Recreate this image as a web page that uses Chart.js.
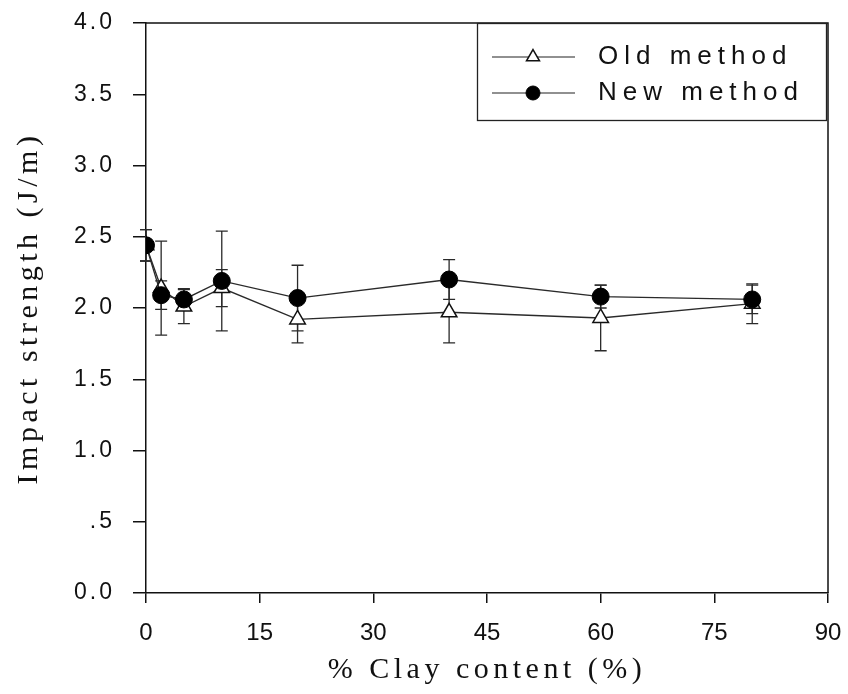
<!DOCTYPE html>
<html>
<head>
<meta charset="utf-8">
<script src="https://cdn.jsdelivr.net/npm/chart.js@4/dist/chart.umd.min.js"></script>
<style>
  html, body { margin: 0; padding: 0; background: #fff; overflow: hidden; }
  #wrap { width: 848px; height: 694px; position: relative; }
</style>
</head>
<body>
<div id="wrap"><canvas id="c"></canvas></div>
<script>
// Clay content (%) of each sample
const clayContent = [0, 2, 5, 10, 20, 40, 60, 80];
// Impact strength (J/m), mean values
const oldMethod = [2.44, 2.14, 2.01, 2.14, 1.92, 1.97, 1.93, 2.03];
const newMethod = [2.44, 2.09, 2.06, 2.19, 2.07, 2.20, 2.08, 2.06];
// Standard deviations (J/m)
const oldMethodSD = [0.11, 0.33, 0.12, 0.13, 0.165, 0.215, 0.23, 0.14];
const newMethodSD = [0.11, 0.10, 0.075, 0.35, 0.23, 0.14, 0.08, 0.10];
// Axis ranges and tick steps
const xTicks = { min: 0, max: 90, step: 15 };
const yTicks = { min: 0, max: 4, step: 0.5 };
const seriesNames = ['Old method', 'New method'];

const SANS = "'Liberation Sans', Arial, sans-serif";
const SERIF = "'Liberation Serif', 'Times New Roman', serif";

// Linear scale whose labels and title can be drawn letter-spaced
class SpacedLinearScale extends Chart.LinearScale {
  drawLabels(area) {
    const ctx = this.ctx;
    ctx.save();
    ctx.letterSpacing = this.options.labelSpacing || '0px';
    super.drawLabels(area);
    ctx.restore();
  }
  drawTitle() {
    const ctx = this.ctx;
    ctx.save();
    ctx.letterSpacing = this.options.titleSpacing || '0px';
    super.drawTitle();
    ctx.restore();
  }
}
SpacedLinearScale.id = 'spacedLinear';
Chart.register(SpacedLinearScale);

const pts = (ys) => clayContent.map((x, i) => ({ x, y: ys[i] }));

// Keep the plot area fixed by the layout padding alone
function noEdgePadding(s) {
  s.paddingLeft = 0; s.paddingRight = 0; s.paddingTop = 0; s.paddingBottom = 0;
}

// Vertical error bars with caps, drawn under the markers
const errorBars = {
  id: 'errorBars',
  beforeDatasetsDraw(chart) {
    const { ctx, scales: { x, y } } = chart;
    const sets = [oldMethodSD, newMethodSD];
    ctx.save();
    ctx.strokeStyle = '#2a2a2a';
    ctx.lineWidth = 1.3;
    chart.data.datasets.forEach((ds, di) => {
      const sd = sets[di];
      ds.data.forEach((p, i) => {
        const px = x.getPixelForValue(p.x);
        const yTop = y.getPixelForValue(p.y + sd[i]);
        const yBot = y.getPixelForValue(p.y - sd[i]);
        const cap = 6;
        ctx.beginPath();
        ctx.moveTo(px, yTop); ctx.lineTo(px, yBot);
        ctx.moveTo(px - cap, yTop); ctx.lineTo(px + cap, yTop);
        ctx.moveTo(px - cap, yBot); ctx.lineTo(px + cap, yBot);
        ctx.stroke();
      });
    });
    ctx.restore();
  }
};

// Closed frame around the plot area
const frame = {
  id: 'frame',
  beforeDatasetsDraw(chart) {
    const { ctx, chartArea: a } = chart;
    ctx.save();
    ctx.strokeStyle = '#111';
    ctx.lineWidth = 1.5;
    ctx.beginPath();
    ctx.moveTo(a.left, a.top); ctx.lineTo(a.right, a.top); ctx.lineTo(a.right, a.bottom);
    ctx.stroke();
    ctx.restore();
  }
};

// Boxed legend with line + marker samples in the upper right corner
const boxLegend = {
  id: 'boxLegend',
  afterDraw(chart) {
    const { ctx, chartArea: a } = chart;
    const w = 349, h = 97;
    const left = a.right - 2 - w, top = a.top;
    ctx.save();
    ctx.fillStyle = '#fff';
    ctx.fillRect(left, top, w, h);
    ctx.strokeStyle = '#222';
    ctx.lineWidth = 1.3;
    ctx.strokeRect(left + 0.5, top + 0.5, w, h);
    [0, 1].forEach((di, row) => {
      const ds = chart.data.datasets[di];
      const cy = top + 34 + row * 36;
      ctx.strokeStyle = '#222';
      ctx.lineWidth = 1.2;
      ctx.beginPath();
      ctx.moveTo(left + 15, cy); ctx.lineTo(left + 98, cy);
      ctx.stroke();
      ctx.fillStyle = ds.pointBackgroundColor;
      ctx.strokeStyle = ds.pointBorderColor;
      ctx.lineWidth = ds.pointBorderWidth;
      Chart.helpers.drawPoint(ctx, {
        pointStyle: ds.pointStyle,
        radius: ds.pointStyle === 'triangle' ? 7.5 : 7,
        rotation: 0,
        borderWidth: ds.pointBorderWidth
      }, left + 56, cy);
      ctx.fillStyle = '#111';
      ctx.font = '26px ' + SANS;
      ctx.letterSpacing = '6px';
      ctx.textBaseline = 'middle';
      ctx.textAlign = 'left';
      ctx.fillText(ds.label, left + 121, cy);
    });
    ctx.restore();
  }
};

new Chart(document.getElementById('c'), {
  type: 'line',
  data: {
    datasets: [
      {
        label: seriesNames[0],
        data: pts(oldMethod),
        order: 1,
        borderColor: '#2a2a2a',
        borderWidth: 1.3,
        pointStyle: 'triangle',
        pointRadius: 9,
        pointBackgroundColor: '#fff',
        pointBorderColor: '#111',
        pointBorderWidth: 1.5,
        tension: 0
      },
      {
        label: seriesNames[1],
        data: pts(newMethod),
        order: 0,
        borderColor: '#2a2a2a',
        borderWidth: 1.3,
        pointStyle: 'circle',
        pointRadius: 8.5,
        pointBackgroundColor: '#000',
        pointBorderColor: '#000',
        pointBorderWidth: 1,
        tension: 0
      }
    ]
  },
  options: {
    responsive: true,
    maintainAspectRatio: false,
    animation: false,
    layout: { padding: { left: 0, top: 23, right: 20, bottom: 0 } },
    plugins: { legend: { display: false }, tooltip: { enabled: false } },
    scales: {
      x: {
        type: 'spacedLinear',
        min: xTicks.min, max: xTicks.max,
        labelSpacing: '0px',
        titleSpacing: '4.5px',
        afterFit(s) { s.height = 101; noEdgePadding(s); },
        ticks: {
          stepSize: xTicks.step,
          color: '#111',
          font: { family: SANS, size: 24 },
          padding: 16,
          maxRotation: 0,
          autoSkip: false
        },
        grid: { drawOnChartArea: false, drawTicks: true, tickLength: 10, color: '#111', lineWidth: 1.5 },
        border: { display: true, color: '#111', width: 1.5 },
        title: {
          display: true,
          text: '% Clay content (%)',
          color: '#111',
          font: { family: SERIF, size: 30 },
          padding: { top: 0, bottom: 6 }
        }
      },
      y: {
        type: 'spacedLinear',
        min: yTicks.min, max: yTicks.max,
        labelSpacing: '3px',
        titleSpacing: '4.5px',
        afterFit(s) { s.width = 146; noEdgePadding(s); },
        ticks: {
          stepSize: yTicks.step,
          color: '#111',
          font: { family: SANS, size: 23 },
          padding: 18,
          callback: (v) => (v === 0.5 ? '.5' : v.toFixed(1))
        },
        grid: { drawOnChartArea: false, drawTicks: true, tickLength: 13, color: '#111', lineWidth: 1.5 },
        border: { display: true, color: '#111', width: 1.5 },
        title: {
          display: true,
          text: 'Impact strength (J/m)',
          color: '#111',
          font: { family: SERIF, size: 30 },
          padding: { top: 11, bottom: 0 }
        }
      }
    }
  },
  plugins: [errorBars, frame, boxLegend]
});
</script>
</body>
</html>
